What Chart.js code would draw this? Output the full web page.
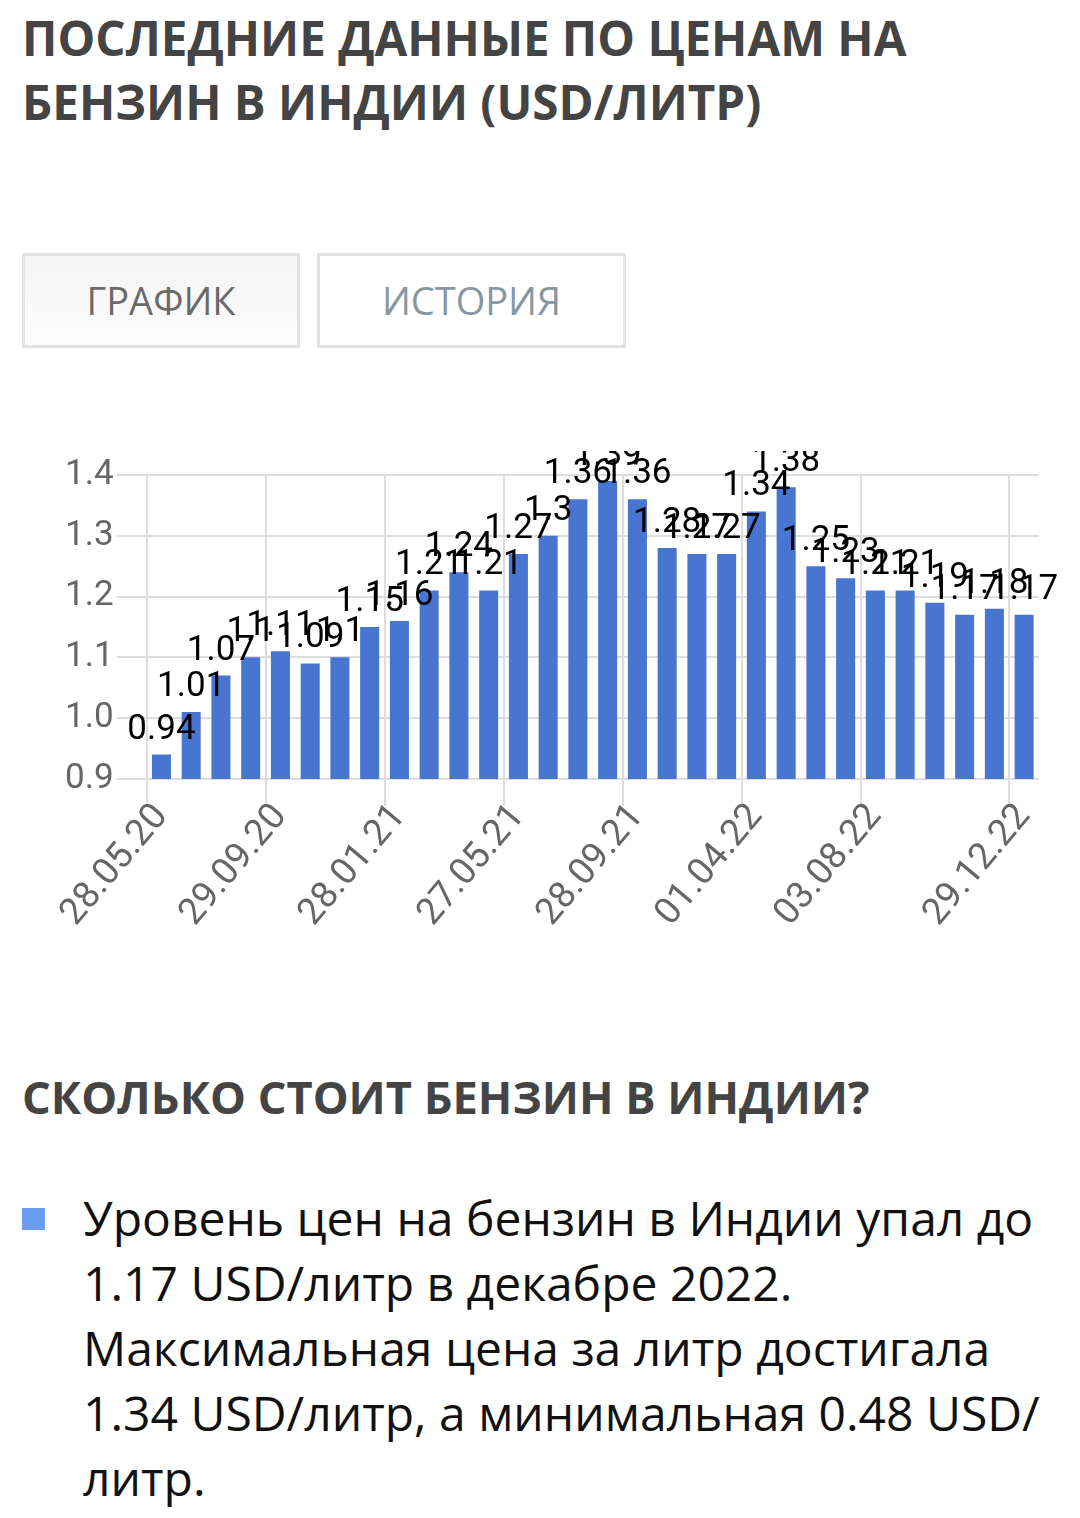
<!DOCTYPE html>
<html>
<head>
<meta charset="utf-8">
<script src="https://cdn.jsdelivr.net/npm/chart.js@4"></script>
<style>
  body { margin: 0; background: #fff; width: 1080px; height: 1518px; position: relative; overflow: hidden; }
  .title { position: absolute; left: 22px; top: 6px; font: bold 47.5px/64px "Open Sans", sans-serif; color: #444; margin: 0; }
  .btn { position: absolute; top: 253px; height: 89px; border: 3px solid #e2e2e2; font: 38px/89px "Open Sans", sans-serif; text-align: center; }
  #btnChart { left: 22px; width: 272px; color: #6a6a6a; background: linear-gradient(#f4f4f4, #fdfdfd); }
  #btnHist { left: 317px; width: 303px; color: #8797a1; background: #fff; }
  .chartBox { position: absolute; left: 58px; top: 451px; width: 1010px; height: 474px; }
  .sub { position: absolute; left: 22px; top: 1065px; font: bold 45.2px/64px "Open Sans", sans-serif; color: #444; margin: 0; }
  .bullet { position: absolute; left: 22px; top: 1208px; width: 23px; height: 22px; background: #6a9cf0; }
  .text { position: absolute; left: 83px; top: 1185px; font: 48px/65px "Open Sans", sans-serif; color: #111; margin: 0; white-space: nowrap; }
</style>
</head>
<body>
<h1 class="title">ПОСЛЕДНИЕ ДАННЫЕ ПО ЦЕНАМ НА<br>БЕНЗИН В ИНДИИ (USD/ЛИТР)</h1>
<div class="btn" id="btnChart">ГРАФИК</div>
<div class="btn" id="btnHist">ИСТОРИЯ</div>
<div class="chartBox"><canvas id="chart"></canvas></div>
<h2 class="sub">СКОЛЬКО СТОИТ БЕНЗИН В ИНДИИ?</h2>
<div class="bullet"></div>
<p class="text">Уровень цен на бензин в Индии упал до<br>1.17 USD/литр в декабре 2022.<br>Максимальная цена за литр достигала<br>1.34 USD/литр, а минимальная 0.48 USD/<br>литр.</p>

<script>
// dates shown on the x axis, one slot per bar
const dateLabels = ['28.05.20', '', '', '', '29.09.20', '', '', '', '28.01.21', '', '', '',
  '27.05.21', '', '', '', '28.09.21', '', '', '', '01.04.22', '', '', '', '03.08.22', '', '', '', '', '29.12.22'];

// petrol price, USD per litre
const prices = [0.94, 1.01, 1.07, 1.1, 1.11, 1.09, 1.1, 1.15, 1.16, 1.21, 1.24, 1.21, 1.27, 1.3, 1.36,
  1.39, 1.36, 1.28, 1.27, 1.27, 1.34, 1.38, 1.25, 1.23, 1.21, 1.21, 1.19, 1.17, 1.18, 1.17];

const yMin = 0.9, yMax = 1.4, yStep = 0.1;

const gridColor = '#dddddd';

// value above each bar, like the original (no clipping except the canvas edge)
const valueLabels = {
  id: 'valueLabels',
  afterDatasetsDraw(chart) {
    const ctx = chart.ctx;
    const meta = chart.getDatasetMeta(0);
    ctx.save();
    ctx.font = '35px Roboto';
    ctx.fillStyle = '#000';
    ctx.textAlign = 'center';
    ctx.textBaseline = 'alphabetic';
    meta.data.forEach((bar, i) => {
      ctx.fillText(String(prices[i]), bar.x, bar.y - 16);
    });
    ctx.restore();
  }
};

const ctx = document.getElementById('chart').getContext('2d');
new Chart(ctx, {
  type: 'bar',
  data: {
    labels: dateLabels,
    datasets: [{
      data: prices,
      backgroundColor: '#4875d0',
      barPercentage: 0.64,
      categoryPercentage: 1
    }]
  },
  options: {
    responsive: true,
    maintainAspectRatio: false,
    devicePixelRatio: 1,
    animation: false,
    layout: { padding: { left: 4, right: 29, top: 0, bottom: 0 } },
    plugins: { legend: { display: false }, tooltip: { enabled: false } },
    scales: {
      x: {
        grid: {
          offset: true,
          lineWidth: 2,
          tickLength: 27,
          color: (c) => (c.tick && c.tick.label) ? gridColor : 'rgba(0,0,0,0)'
        },
        border: { display: false },
        ticks: {
          autoSkip: false,
          minRotation: 50,
          maxRotation: 50,
          padding: -10,
          color: '#666',
          font: { family: 'Roboto', size: 37 }
        }
      },
      y: {
        min: yMin,
        max: yMax,
        grid: { lineWidth: 2, tickLength: 30, color: gridColor },
        border: { display: false },
        ticks: {
          stepSize: yStep,
          padding: 3,
          color: '#666',
          font: { family: 'Roboto', size: 35 },
          callback: (v) => Number(v).toFixed(1)
        }
      }
    }
  },
  plugins: [valueLabels]
});
</script>
</body>
</html>
